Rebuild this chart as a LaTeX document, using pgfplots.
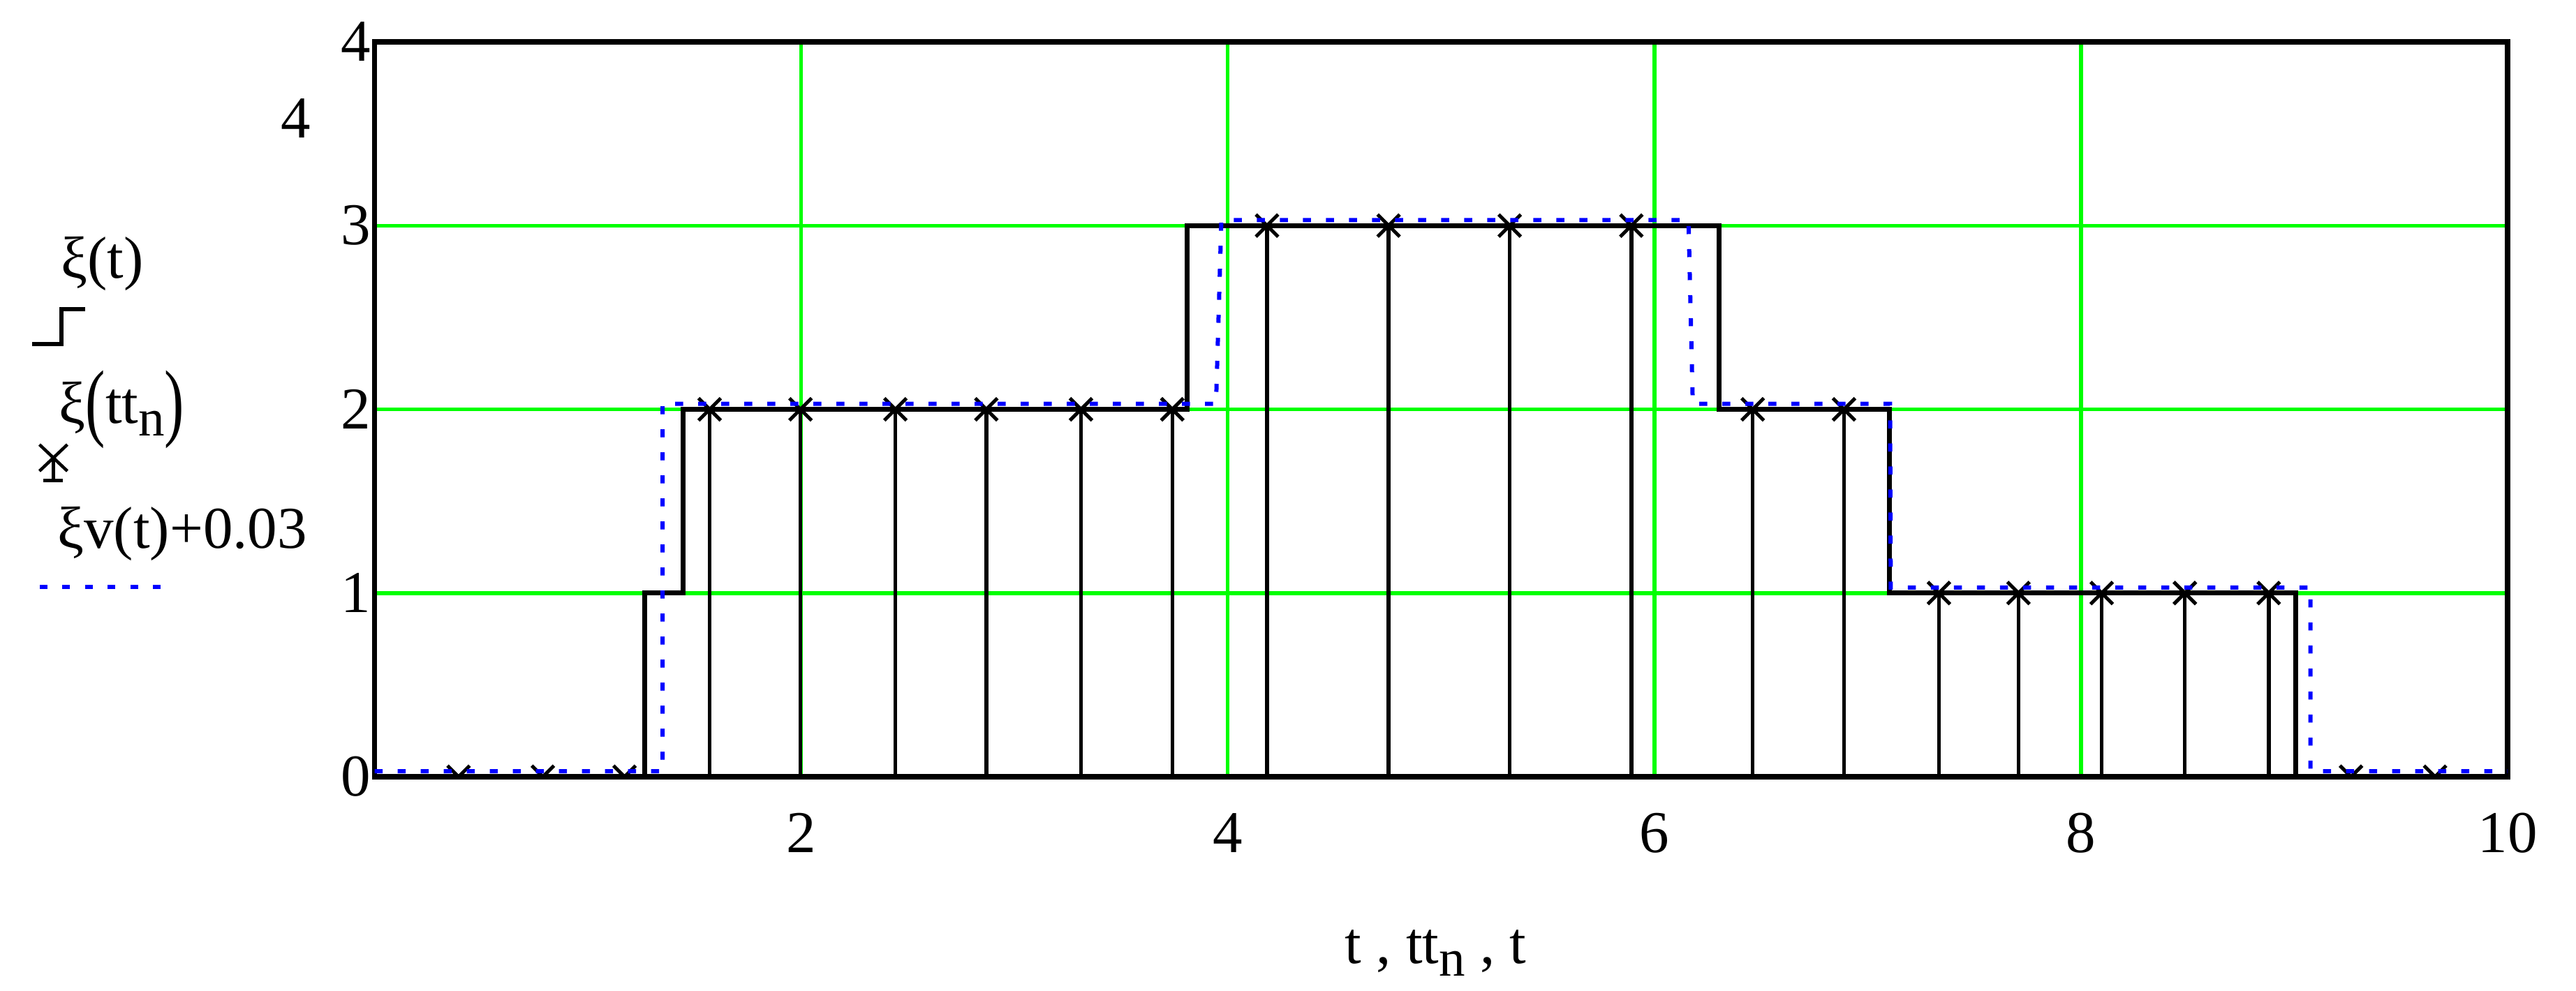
\documentclass[border=0pt]{standalone}
\usepackage{fontspec}
\setmainfont{Liberation Serif}
\usepackage{graphicx}
\usepackage{pgfplots}
\pgfplotsset{compat=1.18}
\usetikzlibrary{calc}
\definecolor{mcgreen}{RGB}{0,255,0}
\definecolor{mcblue}{RGB}{0,0,255}
\newcommand{\lbl}{\fontsize{17}{20}\selectfont}
\newcommand{\bp}[1]{\raisebox{-2pt}{\scalebox{1}[1.45]{#1}}}
\newcommand{\sub}[1]{\raisebox{-3.5pt}{\fontsize{15}{15}\selectfont #1}}

\begin{document}
\begin{tikzpicture}
\begin{axis}[
    scale only axis, width=611.1pt, height=210.6pt,
    xmin=0, xmax=10, ymin=0, ymax=4,
    xtick={2,4,6,8,10}, ytick={0,1,2,3,4},
    grid=major, grid style={mcgreen, line width=1.1pt},
    major tick length=0pt,
    axis line style={line width=1.5pt},
    clip marker paths=true,
    /pgf/number format/assume math mode=true,
    tick label style={font=\lbl},
    xticklabel style={yshift=-6.9pt},
    yticklabel style={xshift=2.4pt},
]
% xi(t): step trace
\addplot[black, line width=1.4pt] coordinates {
  (0,0) (1.265,0) (1.265,1) (1.446,1) (1.446,2) (3.81,2) (3.81,3)
  (6.302,3) (6.302,2) (7.101,2) (7.101,1) (9.006,1) (9.006,0) (10,0)};
% xi(tt_n): stems with crosses
\addplot[black, line width=1.1pt, ycomb, mark=x, mark size=4.5pt,
         mark options={line width=1pt}] coordinates {
  (0.394,0) (0.789,0) (1.172,0) (1.571,2) (1.997,2) (2.442,2) (2.868,2)
  (3.312,2) (3.740,2) (4.184,3) (4.754,3) (5.322,3) (5.892,3) (6.461,2)
  (6.889,2) (7.334,1) (7.707,1) (8.097,1) (8.487,1) (8.880,1) (9.266,0)
  (9.660,0)};
% xi_v(t)+0.03: dotted blue
\addplot[mcblue, line width=1.2pt, dash pattern=on 2.3pt off 4.3pt] coordinates {
  (0,0.03) (1.35,0.03) (1.35,2.03) (3.945,2.03) (3.97,3.03) (6.16,3.03)
  (6.18,2.03) (7.105,2.03) (7.108,1.03) (9.076,1.03) (9.076,0.03) (10,0.03)};
\coordinate (bl) at (rel axis cs:0,0);
\end{axis}
% trace labels on the left, Mathcad style
\node[anchor=base west, inner sep=0, font=\lbl] at ($(bl)+(-90pt,142.9pt)$) {ξ(t)};
\draw[line width=1.1pt] ($(bl)+(-98.1pt,124pt)$) -- ++(8.4pt,0) -- ++(0,10pt) -- ++(6.8pt,0);
\node[anchor=base west, inner sep=0, font=\lbl] at ($(bl)+(-90.5pt,101.2pt)$) {ξ\bp{(}tt\sub{n}\bp{)}};
\draw[line width=0.9pt] ($(bl)+(-96pt,87.6pt)$) -- ++(8pt,7.6pt)
                        ($(bl)+(-96pt,95.2pt)$) -- ++(8pt,-7.6pt);
\draw[line width=0.9pt] ($(bl)+(-92pt,91.4pt)$) -- ++(0,-6.6pt);
\draw[line width=1pt] ($(bl)+(-94.8pt,84.8pt)$) -- ++(5.6pt,0);
\node[anchor=base west, inner sep=0, font=\lbl] at ($(bl)+(-91pt,65.4pt)$) {ξv(t)+0.03};
\draw[mcblue, line width=1.2pt, dash pattern=on 2.2pt off 4.3pt] ($(bl)+(-95.9pt,54.4pt)$) -- ++(35pt,0);
% stray upper-limit label
\node[font=\lbl, inner sep=0] at ($(bl)+(-22.5pt,188.6pt)$) {4};
% x axis label
\node[anchor=base, inner sep=0, font=\lbl] at ($(bl)+(304pt,-53.5pt)$)
  {t , tt\sub{n} , t};
\pgfresetboundingbox
\path[use as bounding box] ($(bl)+(-107.3pt,-61.2pt)$) rectangle ($(bl)+(630.7pt,222.6pt)$);
\end{tikzpicture}
\end{document}
